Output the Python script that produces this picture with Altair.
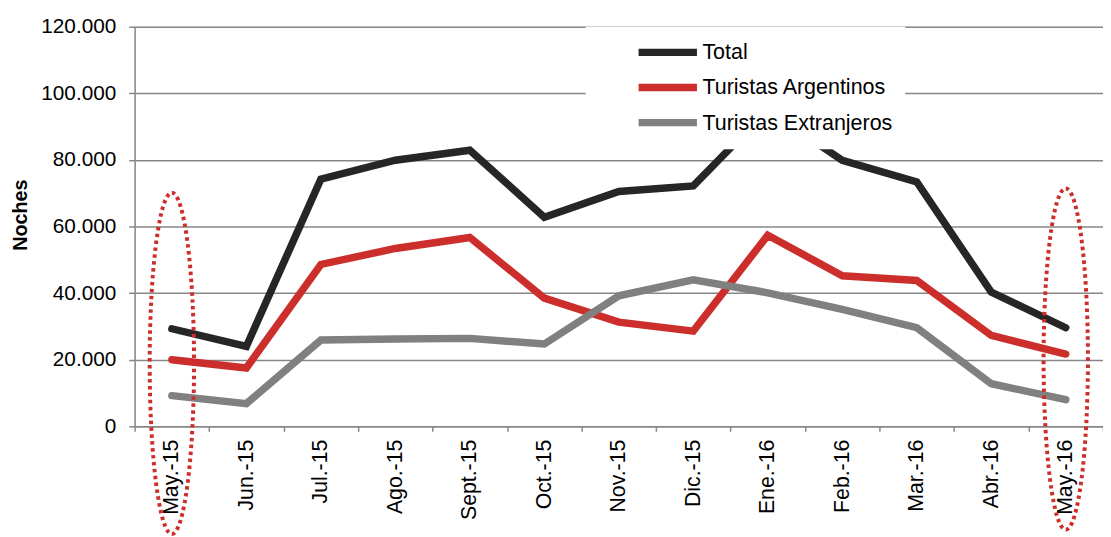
import altair as alt
import pandas as pd

months = ["May.-15", "Jun.-15", "Jul.-15", "Ago.-15", "Sept.-15", "Oct.-15", "Nov.-15",
          "Dic.-15", "Ene.-16", "Feb.-16", "Mar.-16", "Abr.-16", "May.-16"]
series_names = ["Total", "Turistas Argentinos", "Turistas Extranjeros"]
total = [29300, 24000, 74200, 79900, 82900, 62800, 70500, 72200, 95000, 79900, 73400, 40300, 29600]
argentinos = [20000, 17500, 48600, 53400, 56700, 38500, 31300, 28600, 57400, 45200, 43800, 27300, 21700]
extranjeros = [9200, 6800, 25900, 26200, 26400, 24700, 39200, 44000, 40100, 35100, 29600, 12800, 8000]
series_colors = ["#262626", "#cc2e2b", "#808080"]
y_ticks = [0, 20000, 40000, 60000, 80000, 100000, 120000]

# highlighted months (dotted ellipses)
ellipse_months = ["May.-15", "May.-16"]
ellipse_center = [18900, 20200]

rows = []
for name, vals in zip(series_names, [total, argentinos, extranjeros]):
    for i, (m, v) in enumerate(zip(months, vals)):
        rows.append({"mes": m, "serie": name, "noches": v, "orden": i})
df = pd.DataFrame(rows)
df_ell = pd.DataFrame({"mes": ellipse_months, "noches": ellipse_center})

FONT = "Liberation Sans"

x_enc = alt.X("mes:N", sort=months,
              scale=alt.Scale(type="band", paddingInner=0, paddingOuter=0),
              axis=alt.Axis(title=None, labelAngle=270, labelFontSize=21.5, labelFont=FONT,
                            labelColor="#000000", tickBand="extent", tickSize=5,
                            labelPadding=8, domainColor="#878787", tickColor="#878787",
                            domainWidth=1.5, tickWidth=1.5, grid=False))

y_scale = alt.Scale(domain=[0, 120000], nice=False)

legend_symbol = "M -2.95 0 L 2.95 0"

lines = alt.Chart(df).mark_line(strokeWidth=7.5, strokeCap="round", strokeJoin="miter").encode(
    x=x_enc,
    y=alt.Y("noches:Q", scale=y_scale,
            axis=alt.Axis(title="Noches", values=y_ticks,
                          labelExpr="replace(format(datum.value, ',.0f'), ',', '.')",
                          labelFontSize=21, labelFont=FONT, labelColor="#000000",
                          labelPadding=13, tickSize=6, tickColor="#878787",
                          domainColor="#878787", domainWidth=1.5, tickWidth=1.5,
                          gridColor="#878787", gridWidth=1.5,
                          titleFont=FONT, titleFontSize=20, titleFontWeight="bold",
                          titleColor="#000000", titleAngle=270, titleAlign="center",
                          titleBaseline="middle", titleX=-115.5, titleY=190)),
    color=alt.Color("serie:N", sort=series_names,
                    scale=alt.Scale(domain=series_names, range=series_colors),
                    legend=alt.Legend(title=None, orient="none", legendX=456, legendY=0,
                                      fillColor="#ffffff", padding=12, symbolOffset=57,
                                      symbolType=legend_symbol, symbolSize=400,
                                      symbolStrokeWidth=7.5, labelFontSize=21.7, labelFont=FONT,
                                      labelColor="#000000", labelOffset=21, rowPadding=5.5,
                                      labelLimit=0, symbolLimit=0)),
    order=alt.Order("orden:Q"),
)

ellipse_path = ("M 0 -1 C 0.0718 -1 0.13 -0.5523 0.13 0 C 0.13 0.5523 0.0718 1 0 1 "
                "C -0.0718 1 -0.13 0.5523 -0.13 0 C -0.13 -0.5523 -0.0718 -1 0 -1 Z")

ellipses = alt.Chart(df_ell).mark_point(
    shape=ellipse_path, size=119025, filled=False, stroke="#cc2e2b",
    strokeWidth=4, strokeDash=[3.5, 3.5], opacity=1
).encode(
    x=alt.X("mes:N", sort=months),
    y=alt.Y("noches:Q", scale=y_scale),
)

chart = alt.layer(lines, ellipses).properties(
    width=979, height=404,
    autosize=alt.AutoSizeParams(type="none"),
    padding={"left": 128, "top": 16, "right": 0, "bottom": 109},
).configure_view(stroke=None).configure(background="#ffffff")

chart.save("out.html", embed_options={"renderer": "svg", "actions": False})
